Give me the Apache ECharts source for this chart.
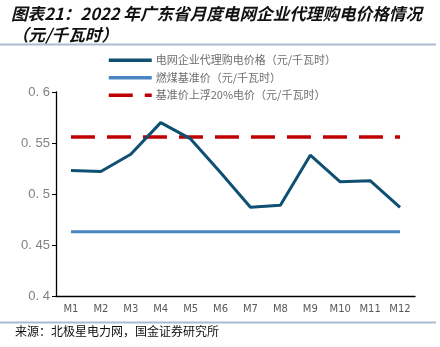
<!DOCTYPE html>
<html><head><meta charset="utf-8">
<script src="https://cdn.jsdelivr.net/npm/echarts@6/dist/echarts.min.js"></script>
<style>html,body{margin:0;padding:0;background:#fff}#c{width:440px;height:347px}</style>
</head><body><div id="c"></div>
<script>
const categories = ['M1','M2','M3','M4','M5','M6','M7','M8','M9','M10','M11','M12'];
const gridPrice = [0.523,0.522,0.539,0.570,0.554,0.521,0.487,0.489,0.538,0.512,0.513,0.487];
const coalBenchmark = [0.463,0.463,0.463,0.463,0.463,0.463,0.463,0.463,0.463,0.463,0.463,0.463];
const benchmarkUp20 = [0.556,0.556,0.556,0.556,0.556,0.556,0.556,0.556,0.556,0.556,0.556,0.556];
const seriesNames = ['电网企业代理购电价格（元/千瓦时）','燃煤基准价（元/千瓦时）','基准价上浮20%电价（元/千瓦时）'];
const yTicks = {0.4:'0. 4',0.45:'0. 45',0.5:'0. 5',0.55:'0. 55',0.6:'0. 6'};

const chart = echarts.init(document.getElementById('c'), null, {renderer:'canvas'});
const cjk = '"Noto Sans CJK SC", sans-serif';
chart.setOption({
  animation:false,
  grid:{left:56,right:25,top:92,bottom:51,containLabel:false},
  legend:{
    orient:'vertical', left:107, top:53, padding:0, itemWidth:43, itemHeight:4, itemGap:3,
    itemStyle:{opacity:0},
    lineStyle:{width:3.5},
    textStyle:{color:'#6e6e6e',fontSize:11,fontFamily:cjk,lineHeight:14.5,padding:[0,0,0,-1]},
    data:seriesNames
  },
  xAxis:{
    type:'category', data:categories, boundaryGap:true,
    axisLine:{lineStyle:{color:'#000',width:1.3}},
    axisTick:{inside:true,length:4,lineStyle:{color:'#000'}},
    axisLabel:{color:'#595959',fontSize:10,fontFamily:'"DejaVu Sans", sans-serif',margin:8}
  },
  yAxis:{
    type:'value', min:0.4, max:0.6, interval:0.05,
    splitLine:{show:false},
    axisLine:{show:true,lineStyle:{color:'#000',width:1.3}},
    axisTick:{show:true,length:4,lineStyle:{color:'#000'}},
    axisLabel:{color:'#808080',fontSize:13,fontFamily:'"Liberation Sans", sans-serif',margin:6,
      formatter:v=>yTicks[Math.round(v*100)/100] ?? String(v)}
  },
  series:[
    {name:seriesNames[0],type:'line',data:gridPrice,symbol:'none',lineStyle:{color:'#0f4f72',width:3},itemStyle:{color:'#0f4f72'},z:3},
    {name:seriesNames[1],type:'line',data:coalBenchmark,symbol:'none',lineStyle:{color:'#4a86c4',width:3},itemStyle:{color:'#4a86c4'},z:2},
    {name:seriesNames[2],type:'line',data:benchmarkUp20,symbol:'none',lineStyle:{color:'#c00000',width:3.5,type:[24,12]},itemStyle:{color:'#c00000'},z:2}
  ],
  graphic:[
    {type:'text',left:11,top:5,style:{text:'图表21：2022 年广东省月度电网企业代理购电价格情况',font:'italic bold 16.6px '+cjk,fill:'#111'}},
    {type:'text',left:12,top:26,style:{text:'（元/千瓦时）',font:'italic bold 16.6px '+cjk,fill:'#111'}},
    {type:'rect',shape:{x:0,y:43.5,width:436,height:2},style:{fill:'#a9bcd0'}},
    {type:'rect',shape:{x:0,y:321.5,width:436,height:2},style:{fill:'#a9bcd0'}},
    {type:'text',left:15,top:325,style:{text:'来源：北极星电力网，国金证券研究所',font:'12px '+cjk,fill:'#111'}}
  ]
});
</script></body></html>
